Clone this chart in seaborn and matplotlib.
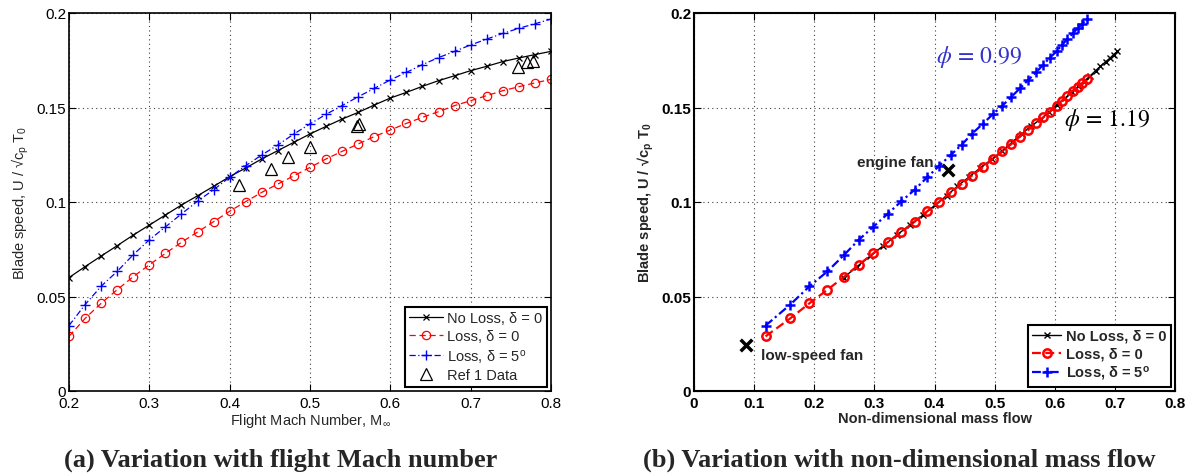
import numpy as np
import pandas as pd
import matplotlib
matplotlib.use("Agg")
import matplotlib.pyplot as plt
import seaborn as sns

# ---------------- data ----------------
mach = [0.20, 0.22, 0.24, 0.26, 0.28, 0.30, 0.32, 0.34, 0.36, 0.38, 0.40,
        0.42, 0.44, 0.46, 0.48, 0.50, 0.52, 0.54, 0.56, 0.58, 0.60,
        0.62, 0.64, 0.66, 0.68, 0.70, 0.72, 0.74, 0.76, 0.78, 0.80]

speed_noloss = [0.0600, 0.0658, 0.0714, 0.0769, 0.0825, 0.0878, 0.0931, 0.0984, 0.1033, 0.1083, 0.1134,
                0.1180, 0.1228, 0.1272, 0.1316, 0.1360, 0.1400, 0.1439, 0.1474, 0.1513, 0.1550,
                0.1580, 0.1612, 0.1642, 0.1668, 0.1695, 0.1718, 0.1743, 0.1762, 0.1780, 0.1797]

speed_loss = [0.0289, 0.0384, 0.0464, 0.0536, 0.0605, 0.0668, 0.0728, 0.0787, 0.0841, 0.0896, 0.0951,
              0.1002, 0.1051, 0.1095, 0.1139, 0.1183, 0.1228, 0.1268, 0.1307, 0.1346, 0.1381,
              0.1416, 0.1448, 0.1478, 0.1510, 0.1536, 0.1563, 0.1589, 0.1610, 0.1630, 0.1649]

speed_loss5 = [0.0346, 0.0457, 0.0554, 0.0633, 0.0721, 0.0800, 0.0868, 0.0937, 0.1004, 0.1065, 0.1131,
               0.1192, 0.1249, 0.1302, 0.1360, 0.1413, 0.1464, 0.1510, 0.1557, 0.1601, 0.1646,
               0.1686, 0.1727, 0.1764, 0.1797, 0.1831, 0.1862, 0.1892, 0.1919, 0.1943, 0.1968]

ref_mach = [0.411, 0.452, 0.473, 0.500, 0.559, 0.561, 0.759, 0.770, 0.777]
ref_speed = [0.1090, 0.1175, 0.1236, 0.1293, 0.1404, 0.1411, 0.1713, 0.1743, 0.1748]

mflow_noloss = [0.249, 0.271, 0.293, 0.315, 0.337, 0.359, 0.381, 0.401, 0.420, 0.438, 0.458,
                0.476, 0.496, 0.513, 0.529, 0.545, 0.560, 0.577, 0.590, 0.603, 0.617,
                0.628, 0.639, 0.650, 0.659, 0.668, 0.676, 0.685, 0.692, 0.698, 0.704]

mflow_loss = [0.119, 0.160, 0.192, 0.222, 0.250, 0.274, 0.298, 0.322, 0.345, 0.367, 0.388,
              0.408, 0.427, 0.445, 0.462, 0.480, 0.497, 0.513, 0.528, 0.542, 0.556,
              0.569, 0.581, 0.592, 0.603, 0.612, 0.621, 0.630, 0.638, 0.646, 0.653]

fan_labels = ["low-speed fan", "engine fan"]
fan_mflow = [0.086, 0.422]
fan_speed = [0.0245, 0.1169]

phi_labels = [r"$\mathit{\phi}\,\mathrm{=\,0.99}$", r"$\mathit{\phi}\,\mathrm{=\,1.19}$"]

xticks_a = [0.2, 0.3, 0.4, 0.5, 0.6, 0.7, 0.8]
xticks_b = [0, 0.1, 0.2, 0.3, 0.4, 0.5, 0.6, 0.7, 0.8]
yticks = [0, 0.05, 0.1, 0.15, 0.2]
ytick_labels = ["0", "0.05", "0.1", "0.15", "0.2"]
xtick_labels_a = ["0.2", "0.3", "0.4", "0.5", "0.6", "0.7", "0.8"]
xtick_labels_b = ["0", "0.1", "0.2", "0.3", "0.4", "0.5", "0.6", "0.7", "0.8"]

# ---------------- style ----------------
sns.set_theme(style="ticks")
plt.rcParams["font.family"] = ["Liberation Sans", "DejaVu Sans"]
plt.rcParams["mathtext.fontset"] = "custom"
plt.rcParams["mathtext.rm"] = "Liberation Sans"
plt.rcParams["mathtext.it"] = "Liberation Sans:italic"
plt.rcParams["mathtext.bf"] = "Liberation Sans:bold"
plt.rcParams["mathtext.default"] = "regular"

fig = plt.figure(figsize=(11.92, 4.77), dpi=100)
axa = fig.add_axes([69 / 1192, 1 - 392 / 477, (551 - 69) / 1192, (392 - 14) / 477])
axb = fig.add_axes([694 / 1192, 1 - 392 / 477, (1175 - 694) / 1192, (392 - 14) / 477])

def style_axes(ax, bold):
    for s in ax.spines.values():
        s.set_visible(True)
        s.set_linewidth(1.2 if not bold else 1.5)
        s.set_color("black")
    ax.tick_params(direction="in", top=True, right=True, length=5, width=0.8,
                   labelsize=11, colors="black", pad=2)
    ax.tick_params(axis="x", pad=3.5)
    ax.grid(True, linestyle=(0, (1, 3)), color="0.25", linewidth=0.8)
    ax.set_axisbelow(True)
    if bold:
        for lab in ax.get_xticklabels() + ax.get_yticklabels():
            lab.set_fontweight("bold")

# ---------------- panel (a) ----------------
sns.lineplot(x=mach, y=speed_noloss, ax=axa, color="black", linestyle="-", linewidth=0.9,
             marker="x", markersize=4, markeredgecolor="black", markeredgewidth=0.9,
             estimator=None, sort=False, label="No Loss, δ = 0")
sns.lineplot(x=mach, y=speed_loss, ax=axa, color="red", linestyle=(0, (5, 3)), linewidth=0.9,
             marker="o", markersize=6, markerfacecolor="none", markeredgecolor="red",
             markeredgewidth=0.9, estimator=None, sort=False, label="Loss, δ = 0")
sns.lineplot(x=mach, y=speed_loss5, ax=axa, color="blue", linestyle=(0, (5, 2, 1, 2)), linewidth=0.9,
             marker="+", markersize=7, markeredgecolor="blue", markeredgewidth=1.0,
             estimator=None, sort=False, label="Loss, δ = 5$^o$")
sns.lineplot(x=ref_mach, y=ref_speed, ax=axa, color="black", linestyle="none",
             marker="^", markersize=9, markerfacecolor="none", markeredgecolor="black",
             markeredgewidth=0.9, estimator=None, sort=False, label="Ref 1 Data")

axa.set_xlim(0.2, 0.8)
axa.set_ylim(0, 0.2)
axa.set_xticks(xticks_a)
axa.set_xticklabels(xtick_labels_a)
axa.set_yticks(yticks)
axa.set_yticklabels(ytick_labels)
axa.set_xlabel(r"Flight Mach Number, M$_{\infty}$", fontsize=10.5, labelpad=1)
axa.set_ylabel(r"Blade speed, U / √c$_{p}$ T$_{0}$", fontsize=10.5, labelpad=4)
style_axes(axa, bold=False)
leg = axa.legend(loc="lower right", fontsize=10.5, frameon=True, fancybox=False,
                 edgecolor="black", framealpha=1, handlelength=2.3, handletextpad=0.3,
                 borderpad=0.3, labelspacing=0.25, borderaxespad=0.3)
leg.get_frame().set_linewidth(1.5)

# ---------------- panel (b) ----------------
sns.lineplot(x=mflow_noloss, y=speed_noloss, ax=axb, color="black", linestyle="-", linewidth=1.0,
             marker="x", markersize=4, markeredgecolor="black", markeredgewidth=1.0,
             estimator=None, sort=False, label="No Loss, δ = 0")
sns.lineplot(x=mflow_loss, y=speed_loss, ax=axb, color="red", linestyle=(0, (4, 2)), linewidth=1.6,
             marker="o", markersize=6, markerfacecolor="none", markeredgecolor="red",
             markeredgewidth=1.8, estimator=None, sort=False, label="Loss, δ = 0")
sns.lineplot(x=mflow_loss, y=speed_loss5, ax=axb, color="blue", linestyle=(0, (4, 1.5, 1, 1.5)),
             linewidth=1.6, marker="+", markersize=7, markeredgecolor="blue",
             markeredgewidth=1.8, estimator=None, sort=False, label="Loss, δ = 5$^o$")
sns.scatterplot(x=fan_mflow, y=fan_speed, ax=axb, color="black", marker="x", s=70,
                linewidth=2.5, legend=False)

axb.text(fan_mflow[0] + 0.026, fan_speed[0] - 0.0055, fan_labels[0], fontsize=11,
         fontweight="bold", ha="left", va="center")
axb.text(fan_mflow[1] - 0.024, fan_speed[1] + 0.0043, fan_labels[1], fontsize=11,
         fontweight="bold", ha="right", va="center")
axb.text(0.402, 0.1775, phi_labels[0], fontsize=17, color="#3333cc", ha="left",
         va="center", math_fontfamily="stix")
axb.text(0.616, 0.1440, phi_labels[1], fontsize=17, color="black", ha="left",
         va="center", math_fontfamily="stix")

axb.set_xlim(0, 0.8)
axb.set_ylim(0, 0.2)
axb.set_xticks(xticks_b)
axb.set_xticklabels(xtick_labels_b)
axb.set_yticks(yticks)
axb.set_yticklabels(ytick_labels)
axb.set_xlabel("Non-dimensional mass flow", fontsize=10.5, fontweight="bold", labelpad=1)
axb.set_ylabel(r"Blade speed, U / √c$\mathbf{_{p}}$ T$\mathbf{_{0}}$", fontsize=10.5,
               fontweight="bold", labelpad=4)
style_axes(axb, bold=True)
legb = axb.legend(loc="lower right", fontsize=10.5, frameon=True, fancybox=False,
                  edgecolor="black", framealpha=1, handlelength=2.0, handletextpad=0.3,
                  borderpad=0.3, labelspacing=0.25, borderaxespad=0.3,
                  prop={"weight": "bold", "size": 10.5})
legb.get_frame().set_linewidth(1.5)

# ---------------- captions ----------------
fig.text(281 / 1192, 1 - 460 / 477, "(a) Variation with flight Mach number",
         fontsize=19, fontweight="bold", family="Liberation Serif", ha="center", va="center")
fig.text(899 / 1192, 1 - 460 / 477, "(b) Variation with non-dimensional mass flow",
         fontsize=19, fontweight="bold", family="Liberation Serif", ha="center", va="center")

fig.savefig("out.png", dpi=100)
